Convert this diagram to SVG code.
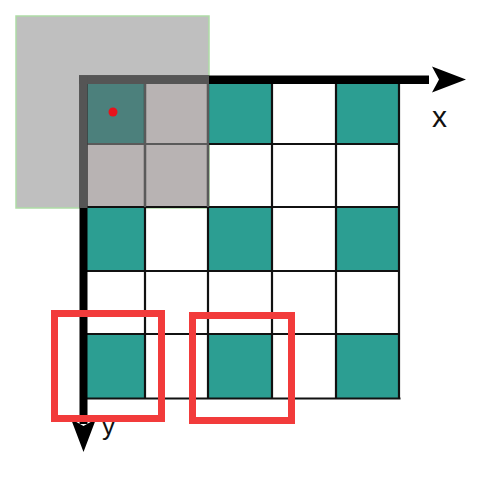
<svg xmlns="http://www.w3.org/2000/svg" width="502" height="493" viewBox="0 0 502 493">
<style>
.t{fill:#2c9e92}
.w{fill:#ffffff}
.gl{stroke:#111;stroke-width:2.2;fill:none}
.lbl{font-family:"Liberation Sans",Arial,sans-serif;fill:#111}
.red{fill:none;stroke:#f23b3b;stroke-width:7}
</style>
<rect width="502" height="493" fill="#fff"/>
<g id="overlay">
<rect x="16" y="16" width="193" height="192" fill="#bfbfbf" stroke="#aedca6" stroke-width="1.5"/>
</g>
<g id="grid">
<rect x="87" y="84" width="58" height="60" fill="#4c807c"/>
<rect x="145" y="84" width="63" height="60" fill="#b8b3b3"/>
<rect x="208" y="84" width="64" height="60" class="t"/>
<rect x="272" y="84" width="64" height="60" class="w"/>
<rect x="336" y="84" width="63" height="60" class="t"/>
<rect x="87" y="144" width="58" height="63" fill="#b8b3b3"/>
<rect x="145" y="144" width="63" height="63" fill="#b8b3b3"/>
<rect x="87" y="207" width="58" height="64" class="t"/>
<rect x="208" y="207" width="64" height="64" class="t"/>
<rect x="336" y="207" width="63" height="64" class="t"/>
<rect x="87" y="334" width="58" height="64" class="t"/>
<rect x="208" y="334" width="64" height="64" class="t"/>
<rect x="336" y="334" width="63" height="64" class="t"/>
<path class="gl" d="M145 84V398M208 207V398M272 84V398M336 84V398M399 84V399.5M87 207H399M87 271H399M87 334H399M85 398.5H400.5M208 84V207M87 144H399"/>
<path d="M145 84V207M208 84V207M87 144H208" stroke="#5a5a5a" stroke-width="2.2" fill="none"/>
</g>
<g id="axes">
<rect x="79" y="75.5" width="350" height="8.5" fill="#000"/>
<rect x="79.5" y="76" width="8" height="348" fill="#000"/>
<rect x="79" y="75.5" width="130" height="8.5" fill="#555"/>
<rect x="79.5" y="76" width="8" height="132" fill="#555"/>
<path d="M432 66.5L466 79.5L432 92.5L439 79.5Z" fill="#000"/>
<path d="M71 419L83.5 452L96 419L83.5 426Z" fill="#000"/>
</g>
<g id="dot"><circle cx="113" cy="112" r="4.5" fill="#e8121b"/></g>
<g id="labels">
<text class="lbl" x="432" y="127" font-size="30" textLength="15" lengthAdjust="spacingAndGlyphs">x</text>
<text class="lbl" x="102" y="435" font-size="25" textLength="13" lengthAdjust="spacingAndGlyphs">y</text>
</g>
<g id="highlights">
<rect class="red" x="54.5" y="313.5" width="107" height="105"/>
<rect class="red" x="192.5" y="315.5" width="99" height="105"/>
</g>
</svg>
